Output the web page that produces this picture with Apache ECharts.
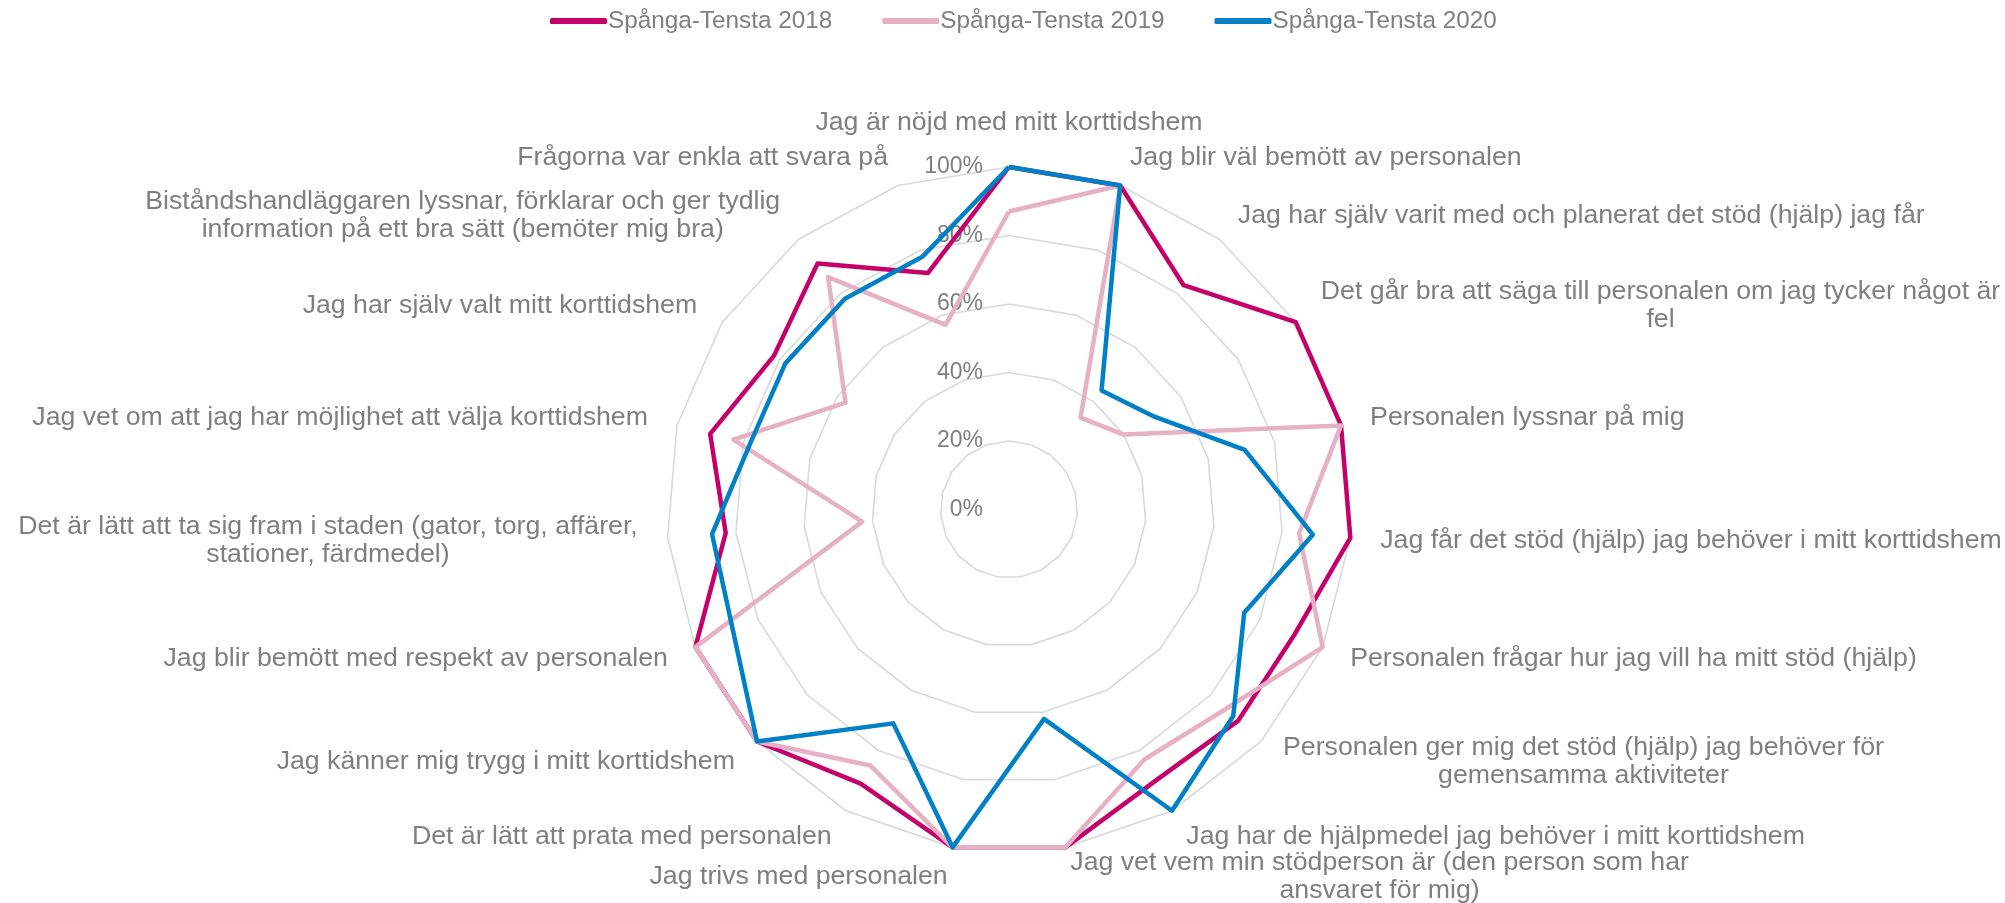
<!DOCTYPE html>
<html>
<head>
<meta charset="utf-8">
<script src="https://cdn.jsdelivr.net/npm/echarts@6/dist/echarts.min.js"></script>
<style>
  html, body { margin: 0; padding: 0; background: #fff; }
  #main { width: 2005px; height: 903px; }
</style>
</head>
<body>
<div id="main"></div>
<script>
// frågor, medurs från toppen (som i originalet)
var questions = [
  "Jag är nöjd med mitt korttidshem",
  "Jag blir väl bemött av personalen",
  "Jag har själv varit med och planerat det stöd (hjälp) jag får",
  "Det går bra att säga till personalen om jag tycker något är\nfel",
  "Personalen lyssnar på mig",
  "Jag får det stöd (hjälp) jag behöver i mitt korttidshem",
  "Personalen frågar hur jag vill ha mitt stöd (hjälp)",
  "Personalen ger mig det stöd (hjälp) jag behöver för\ngemensamma aktiviteter",
  "Jag har de hjälpmedel jag behöver i mitt korttidshem",
  "Jag vet vem min stödperson är (den person som har\nansvaret för mig)",
  "Jag trivs med personalen",
  "Det är lätt att prata med personalen",
  "Jag känner mig trygg i mitt korttidshem",
  "Jag blir bemött med respekt av personalen",
  "Det är lätt att ta sig fram i staden (gator, torg, affärer,\nstationer, färdmedel)",
  "Jag vet om att jag har möjlighet att välja korttidshem",
  "Jag har själv valt mitt korttidshem",
  "Biståndshandläggaren lyssnar, förklarar och ger tydlig\ninformation på ett bra sätt (bemöter mig bra)",
  "Frågorna var enkla att svara på"
];

var seriesNames = ["Spånga-Tensta 2018", "Spånga-Tensta 2019", "Spånga-Tensta 2020"];
var seriesColors = ["#c5006a", "#e6b1c4", "#0080c6"];

var st2018 = [100, 100, 83, 100, 100, 100, 91, 91, 90, 100, 100, 91, 100, 100, 83, 90, 82, 91, 73];
var st2019 = [87, 100, 34, 40, 100, 85, 100, 86, 83, 100, 100, 85, 100, 100, 43, 83, 57, 86, 57];
var st2020 = [100, 100, 44, 50, 71, 89, 75, 89, 100, 62, 100, 71, 100, 88, 87, 78, 78, 78, 78];

var tickLabels = ["0%", "20%", "40%", "60%", "80%", "100%"];

// echarts går moturs, så vänd ordningen (första står kvar)
function cw(arr) {
  return [arr[0]].concat(arr.slice(1).reverse());
}

var fontFam = '"Liberation Sans", Arial, sans-serif';
var gray = "#7f7f7f";

var indicator = cw(questions).map(function (q, i) {
  var ind = { name: q, min: 0, max: 100 };
  if (i === 0) {
    ind.axisLabel = { show: true };
  }
  return ind;
});

var allData = [st2018, st2019, st2020];

var myChart = echarts.init(document.getElementById("main"));
var option = {
  animation: false,
  legend: {
    data: seriesNames,
    left: 545,
    top: 4,
    icon: "roundRect",
    itemWidth: 57,
    itemHeight: 6,
    itemGap: 50,
    textStyle: {
      color: gray,
      fontSize: 24.3,
      fontFamily: fontFam,
      padding: [0, 0, 0, -4]
    }
  },
  radar: {
    center: [1009, 509.5],
    radius: 342.5,
    shape: "polygon",
    splitNumber: 5,
    nameGap: 30,
    axisName: {
      color: gray,
      fontSize: 26.7,
      fontFamily: fontFam,
      formatter: function (name) {
        return name.split("\n").map(function (s) {
          return "{c|" + s + "}";
        }).join("\n");
      },
      rich: {
        c: {
          align: "center",
          color: gray,
          fontSize: 26.7,
          fontFamily: fontFam,
          lineHeight: 28
        }
      }
    },
    axisLine: { show: false },
    axisTick: { show: false },
    axisLabel: {
      show: false,
      color: gray,
      fontSize: 23,
      fontFamily: fontFam,
      margin: 26,
      showMinLabel: true,
      showMaxLabel: true,
      formatter: function (v) {
        return tickLabels[Math.round(v / 20)];
      }
    },
    splitLine: {
      lineStyle: { color: "#d9d9d9", width: 1.6 }
    },
    splitArea: { show: false },
    indicator: indicator
  },
  series: [
    {
      type: "radar",
      symbol: "none",
      data: allData.map(function (arr, i) {
        return {
          name: seriesNames[i],
          value: cw(arr),
          lineStyle: { color: seriesColors[i], width: 4.5 },
          itemStyle: { color: seriesColors[i] }
        };
      })
    }
  ]
};
myChart.setOption(option);
</script>
</body>
</html>
